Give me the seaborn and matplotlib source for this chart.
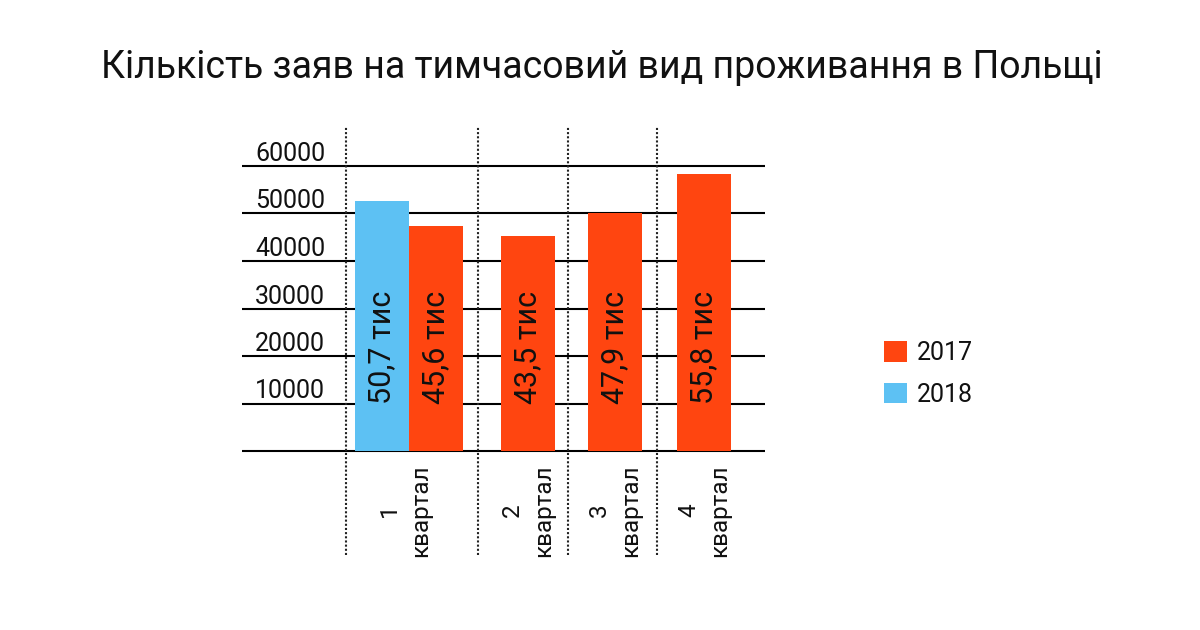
import matplotlib
matplotlib.use("Agg")
import matplotlib.pyplot as plt
import seaborn as sns
import pandas as pd
from matplotlib.patches import Patch

# ---- data ----
quarters = ["1\nквартал", "2\nквартал", "3\nквартал", "4\nквартал"]
years = ["2017", "2018"]
values_2017 = [47400, 45300, 50000, 58300]
values_2018 = [52700]
labels_2017 = ["45,6 тис", "43,5 тис", "47,9 тис", "55,8 тис"]
labels_2018 = ["50,7 тис"]
ytick_values = [10000, 20000, 30000, 40000, 50000, 60000]
title = "Кількість заяв на тимчасовий вид проживання в Польщі"

# ---- layout (pixel-like positions on the x scale) ----
pos_2017 = [436, 528, 615, 704]
pos_2018 = [382]
tick_pos = [405, 528, 615, 704]
divider_pos = [346, 478, 568, 657]
colors = {"2017": "#FF4510", "2018": "#5DC1F3"}

df = pd.DataFrame({
    "pos": pos_2018 + pos_2017,
    "value": values_2018 + values_2017,
    "year": ["2018"] * len(values_2018) + ["2017"] * len(values_2017),
    "label": labels_2018 + labels_2017,
})

sns.set_theme(style="white")
plt.rcParams["font.family"] = ["Roboto", "DejaVu Sans"]

fig = plt.figure(figsize=(12, 6.3), dpi=100)
ax = fig.add_axes([242 / 1200, (630 - 451) / 630, 523 / 1200, 285 / 630])

sns.barplot(data=df, x="pos", y="value", hue="year", hue_order=years,
            palette=colors, native_scale=True, dodge=False, width=1.0,
            linewidth=0, saturation=1, ax=ax, zorder=2, legend=False)

ax.set_xlim(242, 765)
ax.set_ylim(0, 60000)

# horizontal rules
ax.hlines([0] + ytick_values, 0, 1, transform=ax.get_yaxis_transform(),
          color="black", lw=1.5, zorder=1, clip_on=False)
# dotted dividers
ax.vlines(divider_pos, -0.365, 1.14, transform=ax.get_xaxis_transform(),
          color="#222222", lw=1.5, linestyles=(0, (1, 1)), zorder=3, clip_on=False)

for s in ax.spines.values():
    s.set_visible(False)

ax.set_yticks(ytick_values, [str(v) for v in ytick_values], ha="left", va="bottom")
ax.tick_params(axis="y", length=0, pad=-9.4, labelsize=18, labelcolor="#111111")
ax.set_xticks(tick_pos, quarters, rotation=90, linespacing=1.45)
ax.tick_params(axis="x", length=0, pad=9.5, labelsize=17.5, labelcolor="#111111")
ax.set_xlabel("")
ax.set_ylabel("")

# bar value labels
for p, lab in zip(df["pos"], df["label"]):
    ax.text(p, 10000, lab, rotation=90, ha="center", va="bottom",
            fontsize=22, color="#111111", zorder=4)

# title
fig.text(602 / 1200, (630 - 78) / 630, title, ha="center", va="baseline",
         fontsize=27, color="#111111")

# legend
handles = [Patch(facecolor=colors[y], edgecolor="none") for y in years]
fig.legend(handles, years, loc="upper left", bbox_to_anchor=(884 / 1200, 1 - 341 / 630),
           frameon=False, fontsize=18, handlelength=0.9, handleheight=0.9,
           handletextpad=0.4, labelspacing=0.7, borderpad=0, borderaxespad=0,
           labelcolor="#111111")

fig.savefig("out.png", dpi=100, facecolor="white")
